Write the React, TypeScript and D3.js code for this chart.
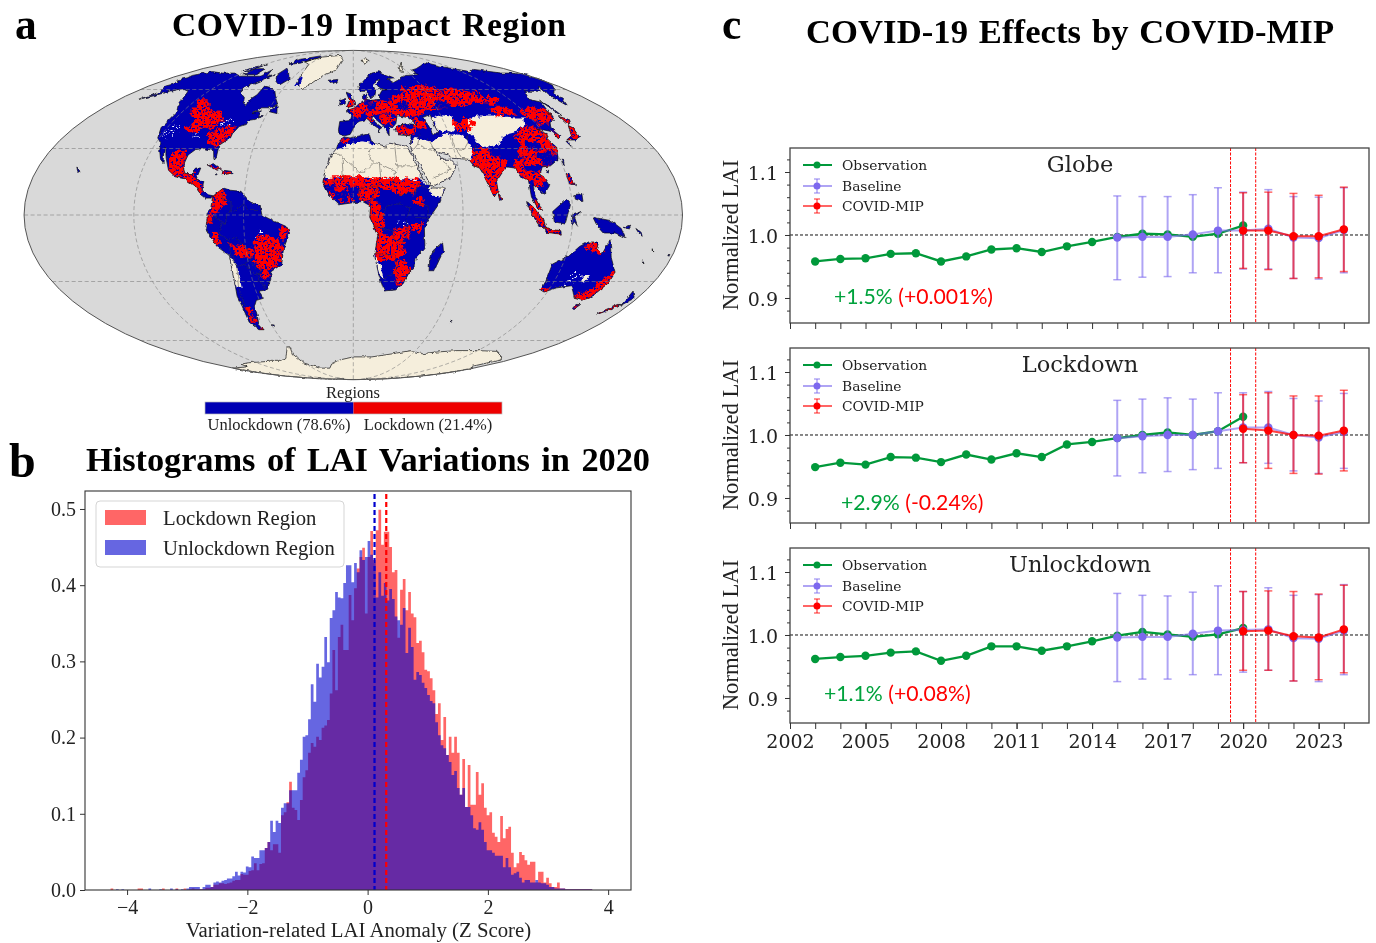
import React from "react";
import * as d3 from "d3";

// ---------- panel c values ----------
const obsYears = d3.range(2003, 2021);
const simYears = d3.range(2015, 2025);
const covidYears = d3.range(2020, 2025);
const yearTicks = [2002, 2005, 2008, 2011, 2014, 2017, 2020, 2023];

const globeObs = [0.958, 0.962, 0.963, 0.97, 0.971, 0.958, 0.966, 0.977, 0.979, 0.973, 0.982, 0.989, 0.997, 1.002, 1.001, 0.997, 1.002, 1.015];
const globeBase = [0.996, 0.997, 0.997, 1.001, 1.007, 1.007, 1.01, 0.996, 0.995, 1.008];
const globeBaseHi = [1.062, 1.061, 1.061, 1.064, 1.075, 1.068, 1.072, 1.061, 1.06, 1.075];
const globeBaseLo = [0.929, 0.933, 0.934, 0.94, 0.94, 0.946, 0.946, 0.931, 0.93, 0.94];
const globeCovid = [1.007, 1.007, 0.998, 0.998, 1.009];
const globeCovidHi = [1.067, 1.068, 1.066, 1.063, 1.076];
const globeCovidLo = [0.947, 0.945, 0.931, 0.932, 0.942];

const lockObs = [0.949, 0.956, 0.953, 0.965, 0.964, 0.957, 0.969, 0.961, 0.971, 0.965, 0.985, 0.989, 0.995, 1.0, 1.004, 1.0, 1.006, 1.029];
const lockBase = [0.995, 0.998, 1.0, 1.0, 1.006, 1.012, 1.012, 1.0, 0.996, 1.005];
const lockBaseHi = [1.055, 1.057, 1.059, 1.057, 1.067, 1.067, 1.069, 1.058, 1.054, 1.066];
const lockBaseLo = [0.935, 0.94, 0.942, 0.945, 0.947, 0.956, 0.955, 0.943, 0.939, 0.947];
const lockCovid = [1.01, 1.007, 1.0, 0.999, 1.007];
const lockCovidHi = [1.064, 1.067, 1.062, 1.062, 1.071];
const lockCovidLo = [0.956, 0.947, 0.939, 0.938, 0.943];

const unlockObs = [0.962, 0.965, 0.967, 0.972, 0.974, 0.959, 0.967, 0.982, 0.982, 0.975, 0.982, 0.99, 0.999, 1.005, 1.001, 0.997, 1.001, 1.011];
const unlockBase = [0.996, 0.997, 0.997, 1.002, 1.007, 1.008, 1.009, 0.995, 0.994, 1.007];
const unlockBaseHi = [1.066, 1.063, 1.062, 1.068, 1.078, 1.069, 1.075, 1.063, 1.064, 1.08];
const unlockBaseLo = [0.926, 0.93, 0.93, 0.937, 0.937, 0.941, 0.944, 0.927, 0.926, 0.937];
const unlockCovid = [1.006, 1.007, 0.998, 0.996, 1.009];
const unlockCovidHi = [1.069, 1.07, 1.069, 1.065, 1.079];
const unlockCovidLo = [0.944, 0.944, 0.927, 0.929, 0.94];

// ---------- panel b values, density x 1000, bins of 0.045 from -4.5 ----------
const histStart = -4.5;
const histBin = 0.045;
const lockdownTail = [0, 0, 0, 0, 0, 2, 0, 0, 0, 0, 0, 0, 0, 0, 0, 2, 2, 0, 0, 0, 0, 0, 0, 0, 2, 0, 0, 0, 0, 2, 0, 0, 2, 0];
const unlockdownTail = [0, 0, 0, 0, 0, 0, 0, 1, 0, 1, 0, 0, 0, 0, 0, 0, 0, 0, 0, 2, 0, 0, 0, 1, 0, 0, 0, 2, 0, 1, 0, 1, 0, 2];
const lockdownHist = [
  1, 2, 1, 1, 1, 1, 3, 3, 4, 7, 7, 9, 9, 8, 9, 10, 12, 13, 13, 21, 20, 20, 25, 26, 35, 26, 34, 35, 55, 63, 52, 60, 60, 49,
  98, 102, 115, 142, 108, 105, 92, 118, 148, 157, 180, 193, 188, 201, 197, 213, 216, 223, 258, 315, 262, 332, 348, 315, 315, 387,
  354, 396, 422, 437, 449, 363, 437, 471, 433, 472, 499, 453, 470, 470, 450, 417, 420, 331, 394, 408, 367, 391, 363, 358, 324, 327,
  312, 289, 287, 278, 262, 231, 245, 197, 227, 177, 201, 180, 201, 180, 125, 172, 109, 164, 112, 112, 155, 125, 140, 108, 98, 102,
  75, 70, 63, 97, 68, 80, 83, 49, 30, 35, 50, 46, 39, 33, 37, 37, 10, 24, 24, 10, 16, 9, 4, 4, 10, 2, 2, 1, 1, 1, 1, 1, 1, 1, 1, 1, 1,
];
const unlockdownHist = [
  4, 4, 4, 4, 1, 4, 7, 7, 4, 10, 11, 10, 12, 13, 15, 15, 18, 24, 19, 24, 23, 31, 30, 44, 42, 42, 52, 52, 55, 63, 91, 76, 91, 88,
  108, 114, 114, 131, 131, 131, 154, 171, 201, 203, 224, 270, 247, 297, 279, 293, 332, 299, 357, 367, 391, 384, 383, 403, 426, 426,
  404, 429, 417, 446, 433, 437, 458, 440, 429, 384, 417, 386, 403, 380, 395, 382, 359, 354, 348, 370, 311, 344, 319, 276, 286, 282,
  272, 265, 256, 248, 245, 220, 203, 190, 186, 177, 168, 151, 156, 134, 125, 134, 109, 109, 98, 81, 79, 89, 79, 63, 52, 52,
  49, 45, 45, 45, 30, 42, 30, 20, 22, 24, 16, 10, 13, 13, 10, 10, 13, 10, 9, 9, 7, 4, 4, 2, 2, 2, 2, 1, 1, 1, 1, 1, 1, 1, 1, 1, 1,
];
const histYTicks = [0, 0.1, 0.2, 0.3, 0.4, 0.5];
const histXTicks = [-4, -2, 0, 2, 4];
const unlockdownMean = 0.115;
const lockdownMean = 0.31;

// ---------- panel a geography, [lon, lat] ----------
type Ring = number[][];
const northAmerica: Ring = [[-168, 65.5], [-164, 67], [-166, 68.5], [-157, 71], [-141, 70], [-128, 70], [-115, 68], [-108, 68], [-95, 68], [-94, 72], [-88, 68], [-82, 69], [-86, 66], [-94, 61], [-93, 58.5], [-85, 55.5], [-82, 52.5], [-79, 51.5], [-79, 55], [-77, 57], [-78, 62], [-70, 61], [-65, 59], [-60, 55], [-56, 52], [-60, 50], [-66, 50], [-70, 47], [-65, 48.5], [-65, 46], [-61, 46], [-66, 44], [-70, 43.5], [-70, 41.5], [-74, 40.5], [-76, 37], [-76, 35], [-81, 31.5], [-80, 26], [-81, 25], [-83, 29], [-89, 30], [-94, 29.5], [-97, 27], [-97.5, 22], [-95, 18.5], [-91, 18.5], [-90, 21], [-87, 21], [-88, 16], [-83.5, 15], [-83.5, 11], [-80, 9], [-77, 8.5], [-78, 7.5], [-81, 7.5], [-85, 10], [-88, 13], [-94, 16], [-100, 17], [-105, 20], [-109, 25.5], [-113, 31], [-112, 28], [-109.5, 23], [-112, 25], [-115, 29], [-117, 32.5], [-121, 35], [-124, 40], [-124, 48], [-128, 51], [-132, 55], [-137, 59], [-146, 60.5], [-152, 59], [-158, 56.5], [-165, 54.5], [-158, 58.5], [-162, 60], [-165, 62], [-161, 64]];
const southAmerica: Ring = [[-77, 8.5], [-72, 12], [-68, 11], [-62, 10.5], [-57, 6], [-51, 4], [-50, 0], [-44, -2.5], [-37, -5], [-35, -8], [-39, -15], [-41, -22], [-48, -25.5], [-49, -29], [-53, -34], [-58, -34.5], [-57, -38], [-62, -39], [-65, -42], [-66, -46], [-69, -51], [-68, -54], [-72, -54], [-75, -50], [-73, -42], [-73, -37], [-71, -30], [-70, -18], [-76, -14], [-81, -6], [-80, -2], [-80, 1], [-78, 3], [-77.5, 7]];
const africa: Ring = [[-6, 35.5], [-2, 35], [10, 37], [11, 33.5], [15, 32], [20, 31], [22, 32.5], [32, 31], [34, 28], [37, 21], [39, 16], [43, 12], [51, 12], [47, 5], [41, -2], [39, -6], [40, -15], [35, -20], [35, -24], [32.5, -26], [30, -31], [26, -34], [19, -34.5], [15, -27], [12, -18], [13.5, -9], [9, -1], [9.5, 4], [5, 6], [-4, 5], [-8, 4.5], [-13, 8.5], [-17, 14.5], [-16, 20], [-13, 27], [-10, 30], [-9, 33]];
const eurasia: Ring = [[-9, 37], [-9.5, 39], [-9, 43], [-2, 43.5], [-1, 46], [-5, 48.5], [1, 50], [4, 52], [8, 54], [8, 57], [10.5, 57.5], [10, 54.5], [14, 54], [20, 54.5], [21, 57], [24, 59.5], [30, 60], [23, 60], [21, 63], [25, 65.5], [22, 65.5], [17.5, 62], [18.5, 60], [16, 56], [13, 55.5], [11, 59], [5.5, 59], [5, 62], [13, 67], [20, 70], [28, 71], [40, 67], [33, 66.5], [37, 64], [44, 66], [54, 68.5], [68, 69], [67, 72], [75, 73], [87, 75], [104, 77.5], [113, 74], [130, 71], [140, 72.5], [160, 70], [170, 70], [179.9, 69], [179.9, 65], [177, 62.5], [170, 60], [163, 58], [162, 55], [156.5, 51], [156, 57], [163, 62], [155, 59], [142, 59], [135, 54.5], [141, 53], [135, 44], [130, 42.5], [127.5, 40], [129.5, 36], [126.5, 34.5], [126, 38], [121, 39], [118, 39], [122, 37], [119.5, 35], [122, 30.5], [119, 25], [113, 22], [108, 21.5], [106, 19], [109, 13], [105, 9], [103, 11], [100, 13.5], [100, 9], [103.5, 2], [101, 3], [98, 8], [98, 16], [94.5, 16], [92, 21], [88, 21.5], [85, 19.5], [80, 15], [80, 10.5], [77.5, 8], [73, 19], [72, 21], [69, 22], [67, 25], [57, 25.5], [56, 27], [51, 28], [48, 30], [51, 25], [56, 25], [59, 22], [55, 17], [45, 13], [43, 13], [39, 21], [35, 28], [34.5, 31.5], [36, 36], [28, 36.5], [26.5, 39], [29, 41], [35, 42], [41.5, 41.5], [37, 45], [33, 45.5], [30, 46], [28, 42], [26, 40.5], [23, 40], [22.5, 36.5], [19.5, 41], [13, 45.5], [12.5, 44], [16, 41.7], [18.5, 40], [16.5, 39], [16, 38], [15.5, 40], [12, 42], [9, 44], [3.5, 43], [0, 39.5], [-2, 36.7], [-5.5, 36]];
const australia: Ring = [[114, -22], [122, -18], [126, -14], [130, -12], [136, -12], [136, -15], [140, -17.5], [142, -11], [146, -19], [153, -26], [153, -31], [150, -37.5], [146, -39], [140, -38], [136, -35], [132, -32], [124, -33], [118, -35], [115, -34], [115, -30]];
const vegetatedIslands: Ring[] = [
  [[-80, 73], [-72, 71], [-62, 66], [-66, 62.5], [-73, 65], [-80, 69]],
  [[-117, 73], [-105, 73], [-102, 69], [-115, 69]],
  [[-124, 74], [-116, 76], [-118, 72], [-124, 71]],
  [[-90, 80], [-70, 83], [-62, 82], [-75, 77], [-88, 76]],
  [[-59, 48], [-56, 51.5], [-53, 47]],
  [[-24, 65.5], [-15, 66], [-14, 64.5], [-20, 63.5]],
  [[-84, 22.5], [-80, 23], [-75, 20.5], [-78, 20]],
  [[-74, 20], [-69, 19.5], [-68.5, 18.5], [-74, 18]],
  [[-78, 18.5], [-76.5, 18.2], [-77.5, 17.8]],
  [[-6, 58.5], [-2, 57.5], [1, 52.5], [1, 51], [-5, 50], [-3, 54]],
  [[-10, 54], [-6, 55], [-6, 52], [-10, 51.5]],
  [[49.5, -12], [50.5, -16], [47, -25], [44, -25], [43.5, -21], [44.5, -16]],
  [[95, 5.5], [98, 4], [104, -2], [106, -6], [102, -5], [98, 0]],
  [[109, 1.5], [117, 7], [119, 5], [117.5, 1], [116, -4], [110, -3]],
  [[105, -6], [114, -7], [114.5, -8.5], [106, -7.7]],
  [[119.5, -5], [120, 0], [125, 1.5], [121, -1], [123, -5], [121, -3]],
  [[131, -1], [141, -2.5], [147, -6], [150, -10], [144, -8], [138, -8], [133, -4]],
  [[120, 18], [122, 18.5], [122, 16], [124, 13], [120.5, 14]],
  [[122, 9], [126, 9.5], [126, 6], [122, 7]],
  [[142, 54], [143, 50], [143, 46], [142, 47]],
  [[140, 45.5], [145, 44], [143, 42], [140, 42]],
  [[131, 34], [136, 36], [140, 41], [141.5, 40], [140.5, 35.5], [136, 34]],
  [[130, 33.5], [132, 33], [131, 31]],
  [[120.5, 25], [122, 25], [121, 22]],
  [[109, 20], [111, 20], [110, 18.2]],
  [[80, 9.5], [82, 7.5], [80.5, 6]],
  [[145, -41], [148, -41], [147, -43.5], [145.5, -43]],
  [[172.5, -34.5], [178, -38], [175, -41.5], [174, -39]],
  [[167, -46], [172, -43.5], [174, -41], [172, -41], [167, -45]],
  [[148, -5.5], [152, -4.5], [151, -6.2]],
  [[155, -6], [158, -7.5], [160, -9.5], [157, -8]],
  [[164.5, -20.5], [166.5, -22], [165.5, -21]],
  [[167, -15], [168, -16.5], [167.5, -16]],
  [[177.5, -17.5], [178.5, -18.3], [177.5, -18.2]],
  [[-156.5, 20.5], [-155, 19.5], [-156, 19], [-158, 21.5]],
  [[-60, -51.3], [-58, -51.5], [-59, -52.2]],
  [[69, -49], [70.5, -49.2], [69.5, -49.8]],
];
const greenland: Ring = [[-72, 78], [-60, 82], [-30, 83.5], [-18, 80], [-20, 72], [-32, 68], [-43, 60], [-52, 64], [-55, 70], [-60, 76]];
const greenlandCoast: Ring = [[-52, 62], [-48, 62], [-50, 67], [-53, 68]];
const svalbard: Ring = [[12, 79], [20, 80.5], [25, 79], [17, 77]];
const novayaZemlya: Ring = [[52, 71], [57, 74], [68, 77], [60, 74], [55, 70.5]];
const antarctica: Ring = [[-180, -78], [-150, -77], [-145, -75], [-130, -74], [-100, -73], [-85, -73], [-75, -71], [-68, -68], [-60, -63.5], [-58, -64], [-62, -68], [-62, -74], [-50, -78], [-35, -78], [-28, -75], [-15, -72], [0, -70], [20, -70], [40, -68], [55, -66], [70, -68], [80, -67], [100, -66], [120, -66], [140, -66.5], [160, -70], [170, -72], [165, -77], [180, -78], [180, -82], [180, -85], [180, -88], [180, -89.9], [-180, -89.9], [-180, -88], [-180, -85], [-180, -82]];
const caspianSea: Ring = [[47, 45], [53, 46.5], [53, 40], [54, 37], [50, 37], [49, 41]];

const desertAreas: Ring[] = [
  [[-18, 16], [-5, 17], [5, 16.5], [15, 16.5], [25, 16], [35, 15.5], [38, 17], [38, 25], [36, 33], [20, 33], [12, 32], [10, 32.5], [5, 33], [-3, 32], [-10, 29.5], [-18, 28]],
  [[41, 11], [51, 12.5], [49.5, 8], [44, 8.5]],
  [[34, 28], [34, 32], [38, 35], [44, 34], [48, 33], [52, 35], [58, 37], [62, 36], [66, 37], [70, 34], [71, 28], [68, 24], [60, 24], [60, 18], [45, 11], [40, 14], [36, 22]],
  [[52, 44], [58, 46], [66, 45], [68, 41], [62, 38], [54, 39]],
  [[72, 38], [76, 44], [85, 46], [95, 46], [110, 45], [116, 45], [112, 41], [104, 38], [98, 37], [92, 35], [88, 32], [80, 30], [76, 33], [74, 36]],
  [[-76, -14], [-70, -18], [-67, -23], [-68, -33], [-71, -33], [-71, -25], [-72, -17]],
  [[12, -17], [15, -20], [18, -29], [16, -28]],
  [[136, -27], [139, -27], [138, -30], [136, -30]],
];
const sparseAreas: Ring[] = [
  [[-119, 36], [-115, 42], [-112, 40], [-112, 35]],
  [[-90, 44], [-83, 44], [-80, 42], [-86, 41]],
  [[-100, 38], [-96, 38], [-95, 36], [-99, 36]],
  [[-54, -8], [-50, -8], [-50, -10], [-54, -10]],
  [[25, -3], [29, -3], [29, -5], [26, -5]],
  [[128, -26], [134, -26], [134, -30], [128, -30]],
];
const lockdownAreas: Ring[] = [
  [[-113, 48], [-117, 54], [-111, 54], [-105, 50], [-95, 48], [-88, 44], [-91, 41.5], [-98, 39], [-105, 38], [-106, 44]],
  [[-92, 37], [-85, 39], [-78, 41], [-76, 38], [-78, 35], [-83, 32], [-88, 33]],
  [[-106, 28], [-100, 29], [-98, 25], [-100, 22], [-105, 22]],
  [[-105, 22], [-98, 22], [-96, 18], [-100, 17], [-105, 19]],
  [[-97, 18], [-90, 18], [-88, 15], [-85, 13], [-83, 10], [-85, 10], [-90, 13], [-95, 15]],
  [[-84, 23], [-75, 20.5], [-75, 19.8], [-84, 22]],
  [[-74, 20], [-69, 19], [-69, 18], [-74, 18]],
  [[-76, 11], [-71, 11], [-70, 7], [-72, 3], [-76, 1], [-78, 3]],
  [[-80, 0], [-78, 1], [-77, -3], [-80, -3]],
  [[-78, -8], [-75, -8], [-74, -12], [-76, -13]],
  [[-53, -10], [-47, -9], [-42, -12], [-40, -15], [-41, -20], [-45, -23], [-50, -24], [-54, -24], [-56, -20], [-55, -15]],
  [[-68, -13], [-62, -14], [-57, -16], [-58, -19], [-63, -19], [-66, -17]],
  [[-40, -6], [-36, -6], [-38, -11], [-41, -10]],
  [[-54, -24], [-49, -25], [-50, -28], [-53, -28]],
  [[-72, -43], [-70, -43], [-70, -50], [-73, -51]],
  [[-69, -52], [-66, -54], [-70, -55]],
  [[-17, 15], [-5, 16], [-5, 12], [-2, 12], [0, 6.5], [-5, 6], [-10, 7], [-15, 11]],
  [[-12, 16.8], [5, 16.8], [15, 16.2], [25, 16], [36, 15.5], [38, 13], [30, 12.5], [20, 12], [10, 12.5], [0, 13]],
  [[3, 12.5], [12, 13], [14, 10], [10, 7], [4, 7]],
  [[22, 13], [34, 13], [32, 10], [25, 9]],
  [[9, 6], [14, 6], [16, -2], [15, -10], [12, -8], [9, -1]],
  [[13, -9], [22, -9], [28, -12], [29, -17], [24, -20], [14, -20], [12, -15]],
  [[23, -6], [31, -6], [30, -10], [24, -10]],
  [[33, -4], [37, -4], [37, -7], [33, -7]],
  [[24, -20], [30, -21], [33, -24], [31, -29], [27, -31], [25, -26]],
  [[34, 8], [38, 8], [38, 5], [34, 5]],
  [[-8, 34], [-3, 35], [-5, 32]],
  [[-1, 49], [4, 51], [10, 53], [18, 54], [24, 53], [27, 50], [22, 47], [15, 47], [8, 48], [3, 46], [0, 46]],
  [[18, 46], [25, 46], [28, 44], [24, 42], [20, 43]],
  [[-3, 55], [0, 53], [1, 51.5], [-4, 51]],
  [[10, 45], [13, 45], [13, 43], [10, 44]],
  [[25, 52], [35, 56], [45, 58], [55, 57], [62, 55], [75, 57], [85, 55], [83, 51], [72, 51], [60, 50], [50, 49], [45, 46], [38, 46], [30, 47], [24, 49]],
  [[75, 60], [85, 60], [100, 57], [110, 54], [105, 52], [90, 53], [80, 55]],
  [[40, 60], [60, 62], [70, 60], [72, 55], [60, 52], [45, 52]],
  [[40, 44], [48, 43], [46, 40], [40, 40]],
  [[28, 40], [38, 40], [38, 37], [28, 37]],
  [[66, 42], [75, 44], [80, 42], [75, 39], [68, 39]],
  [[100, 36], [112, 40], [118, 40], [122, 37], [120, 32], [122, 30], [118, 25], [110, 22], [100, 23], [97, 28], [103, 32]],
  [[118, 48], [128, 50], [133, 46], [128, 42], [122, 42]],
  [[130, 50], [137, 48], [135, 44], [131, 44]],
  [[98, 50], [110, 50], [112, 47], [100, 46]],
  [[68, 24], [72, 28], [76, 31], [80, 29], [85, 26], [88, 24], [87, 22], [85, 20], [80, 15], [80, 11], [77, 8], [74, 15], [72, 20]],
  [[80, 9.5], [82, 7.5], [80, 6]],
  [[93, 24], [97, 24], [98, 17], [95, 16], [93, 20]],
  [[99, 19], [105, 19], [107, 15], [102, 12], [100, 14]],
  [[96, 5], [101, 3], [105, -3], [106, -6], [102, -4], [98, 1]],
  [[105, -6], [114, -7], [114, -8.5], [106, -7.5]],
  [[100, 7], [103, 5], [104, 2], [101, 3]],
  [[120, 18], [122, 18], [123, 14], [120, 14]],
  [[126, 38], [129, 38], [129, 35], [126, 35]],
  [[131, 34], [136, 36], [140, 41], [141.5, 40], [140.5, 35.5], [136, 34]],
  [[140, 45.5], [145, 44], [143, 42], [140, 42]],
  [[140, -38.5], [147, -39], [150, -37], [153, -30], [153, -26], [150, -27], [149, -32], [145, -35], [141, -36]],
  [[115, -34], [118, -35], [120, -33]],
  [[130, -13], [136, -12], [140, -17], [136, -16], [130, -15]],
  [[167, -46], [172, -43], [174, -41], [172, -41], [167, -45]],
  [[145, -41], [147, -41], [147, -43]],
];
const unlockedInRed: Ring[] = [
  [[108, 27], [118, 28], [118, 24], [110, 23]],
  [[80, 28], [90, 28], [92, 24], [86, 25]],
  [[105, 33], [112, 34], [112, 30], [105, 30]],
  [[60, 52.5], [70, 53], [70, 50.5], [60, 50.5]],
  [[32, 52], [40, 53], [40, 50], [33, 50]],
  [[-10, 11], [-4, 11], [-4, 7], [-10, 7]],
  [[-15, 13], [-10, 13], [-10, 10], [-14, 11]],
  [[-2, 12], [3, 12], [3, 8], [-2, 8]],
  [[10, 53], [17, 53], [17, 49], [11, 49]],
];
const countryBorders: Ring[] = [
  [[-12, 15], [-5.5, 15.5], [-6.5, 25], [-4.8, 25]],
  [[-13, 27.7], [-8.7, 27.7], [-4.8, 25], [1, 21], [3.2, 19], [6, 19.1], [12, 23.5]],
  [[9.5, 30], [10, 25], [12, 23.5], [15, 23], [24, 19.5], [22, 13]],
  [[25, 31.5], [25, 20]],
  [[25, 22], [37, 22]],
  [[15, 23], [15.5, 16], [13.5, 13.5]],
  [[36, 29.5], [39, 32], [47, 29], [48, 28.5]],
  [[45, 16.5], [52, 19], [55, 20], [55, 22], [52, 24]],
  [[39, 32], [42, 37]],
  [[46, 35], [48, 30]],
  [[61, 36.5], [61, 30], [63, 26]],
  [[61, 30], [66, 29.5], [70, 33], [71, 36], [74, 37]],
  [[71, 25], [74, 32]],
  [[-70, -11], [-74, -8], [-72, -4], [-70, -4], [-69, 1], [-64, 2], [-60, 5], [-57, 2], [-52, 2]],
  [[-70, -11], [-65, -10], [-60, -14], [-58, -18], [-58, -22], [-54, -25], [-57, -30], [-53, -33]],
  [[-70, -18], [-67, -23], [-70, -33], [-71, -42], [-72, -50]],
  [[-72, 11], [-72, 7], [-67, 6], [-67, 1]],
  [[-80, -3.5], [-75, -1], [-70, -4]],
  [[-69, -11], [-69, -17], [-67, -23], [-62, -22], [-58, -20]],
  [[-62, -22], [-58, -27], [-54, -26]],
  [[12, -5], [22, -7], [22, -11], [28, -12], [30, -8], [29, -2], [31, 3], [25, 5], [18, 4], [16, -1]],
  [[24, 9], [34, 10]],
  [[34, 9], [36, 14], [43, 11]],
  [[34, -1], [41, -1.5], [41, 4], [35, 5]],
  [[12, -17], [24, -18], [25, -25], [20, -28], [17, -29]],
  [[3, 6], [3.5, 12], [14, 13], [9, 5]],
];
const gridLats = [-60, -30, 0, 30, 60];
const gridLons = [-120, -60, 0, 60, 120];

const SERIF = "'Liberation Serif', serif";
const DEJAVU = "'DejaVu Serif', serif";
const GREEN = "#06993a";
const SLATE = "#7b68ee";
const MAP_BLUE = "#0000b4";
const BEIGE = "#f5eedc";

// Mollweide is not in d3-geo, so give it the raw function
function mollweideRaw(lambda: number, phi: number) {
  let t = phi;
  if (Math.abs(phi) < Math.PI / 2 - 1e-6) {
    const target = Math.PI * Math.sin(phi);
    for (let i = 0; i < 30; i++) {
      const denom = 2 + 2 * Math.cos(2 * t);
      if (denom < 1e-9) break;
      t -= (2 * t + Math.sin(2 * t) - target) / denom;
    }
  }
  return [(2 * Math.SQRT2 / Math.PI) * lambda * Math.cos(t), Math.SQRT2 * Math.sin(t)];
}

function drawMap(root: any, defs: any) {
  const projection = d3.geoProjection(mollweideRaw as any).scale(116.4).translate([353.3, 215]).precision(0.3);
  const path = d3.geoPath(projection);
  const ringPath = (ring: Ring) => d3.line()(ring.map((p) => projection(p as [number, number]) as [number, number])) + "Z";
  const fillRings = (parent: any, rings: Ring[], fill: string) =>
    parent.append("g").selectAll("path").data(rings).join("path").attr("d", ringPath).attr("fill", fill);

  const vegetated = [northAmerica, southAmerica, africa, eurasia, australia, ...vegetatedIslands];
  const frozen = [greenland, svalbard, novayaZemlya, antarctica];
  const allLand = [...vegetated, ...frozen];

  const landClip = defs.append("clipPath").attr("id", "land-clip");
  landClip.selectAll("path").data(allLand).join("path").attr("d", ringPath);

  const sphere = root.append("g");
  sphere.append("path").attr("d", path({ type: "Sphere" } as any)).attr("fill", "#d9d9d9");

  // everything on land shares one wobble so that coasts stop looking like polygons
  const land = sphere.append("g").attr("filter", "url(#coast)");
  fillRings(land, frozen, BEIGE);
  fillRings(land, vegetated, MAP_BLUE);
  fillRings(land, [greenlandCoast], MAP_BLUE);

  const inside = land.append("g").attr("clip-path", "url(#land-clip)");
  const deserts = inside.append("g").attr("filter", "url(#jag-soft)");
  fillRings(deserts, desertAreas, BEIGE);
  const sparse = inside.append("g").attr("filter", "url(#speck)");
  fillRings(sparse, sparseAreas, "#f2f4fa");
  const red = inside.append("g").attr("filter", "url(#mottle)");
  fillRings(red, lockdownAreas, "#f00");
  const holes = inside.append("g").attr("filter", "url(#mottle)");
  fillRings(holes, unlockedInRed, MAP_BLUE);

  fillRings(land, [caspianSea], "#d9d9d9");
  land.append("g").selectAll("path").data([...allLand, caspianSea]).join("path").attr("d", ringPath)
    .attr("fill", "none").attr("stroke", "#111").attr("stroke-width", 0.7);
  land.append("path")
    .attr("d", path({ type: "MultiLineString", coordinates: countryBorders } as any))
    .attr("fill", "none").attr("stroke", "#333").attr("stroke-width", 0.45);

  const graticule = {
    type: "MultiLineString",
    coordinates: [
      ...gridLats.map((lat) => d3.range(-180, 180.5, 5).map((lon) => [lon === 180 ? 179.99 : lon === -180 ? -179.99 : lon, lat])),
      ...gridLons.map((lon) => d3.range(-89, 89.5, 2).map((lat) => [lon, lat])),
    ],
  };
  sphere.append("path").attr("d", path(graticule as any)).attr("fill", "none")
    .attr("stroke", "#808080").attr("stroke-width", 0.8).attr("stroke-dasharray", "4 2.5").attr("opacity", 0.75);
  sphere.append("path").attr("d", path({ type: "Sphere" } as any)).attr("fill", "none").attr("stroke", "#555").attr("stroke-width", 1);

  // colour bar
  const bar = d3.scaleLinear().domain([0, 2]).range([205, 502]);
  const bands = [[0, MAP_BLUE], [1, "#ee0000"]] as [number, string][];
  root.selectAll(".cb").data(bands).join("rect").attr("class", "cb")
    .attr("x", (d: any) => bar(d[0])).attr("y", 402).attr("height", 12)
    .attr("width", bar(1) - bar(0)).attr("fill", (d: any) => d[1]);
  root.append("rect").attr("x", 205).attr("y", 402).attr("width", 297).attr("height", 12)
    .attr("fill", "none").attr("stroke", "#bbb").attr("stroke-width", 0.7);
  const cbText = [["Regions", 353, 398, 16.5], ["Unlockdown (78.6%)", 279, 430, 16.5], ["Lockdown (21.4%)", 428, 430, 16.5]] as any[];
  root.selectAll(".cbt").data(cbText).join("text").attr("class", "cbt")
    .attr("x", (d: any) => d[1]).attr("y", (d: any) => d[2]).attr("font-size", (d: any) => d[3])
    .attr("text-anchor", "middle").attr("font-family", SERIF).attr("fill", "#222").text((d: any) => d[0]);
}

function drawHistogram(root: any) {
  const g = root.append("g");
  const x = d3.scaleLinear().domain([-4.7, 4.38]).range([85, 631]);
  const y = d3.scaleLinear().domain([0, 0.5236]).range([890, 491]);

  const series: [number[], string][] = [
    [[...lockdownTail, ...lockdownHist], "rgba(255,0,0,0.6)"],
    [[...unlockdownTail, ...unlockdownHist], "rgba(0,0,205,0.6)"],
  ];
  series.forEach(([values, fill]) => {
    const area = d3.area<number>()
      .x((_, i) => x(histStart + i * histBin))
      .y0(y(0))
      .y1((d) => y(d / 1000))
      .curve(d3.curveStepAfter);
    g.append("path").attr("d", area([...values, 0])).attr("fill", fill);
  });

  [[unlockdownMean, "#0000cd"], [lockdownMean, "#f00"]].forEach(([m, c]: any) => {
    g.append("line").attr("x1", x(m)).attr("x2", x(m)).attr("y1", 494).attr("y2", y(0))
      .attr("stroke", c).attr("stroke-width", 2.2).attr("stroke-dasharray", "5 3");
  });

  g.append("rect").attr("x", 85).attr("y", 491).attr("width", 546).attr("height", 399)
    .attr("fill", "none").attr("stroke", "#333").attr("stroke-width", 1.1);

  const xAxis = g.append("g").attr("transform", "translate(0,890)")
    .call(d3.axisBottom(x).tickValues(histXTicks).tickSize(5).tickPadding(5).tickFormat((d: any) => String(d).replace("-", "\u2212")));
  const yAxis = g.append("g").attr("transform", "translate(85,0)")
    .call(d3.axisLeft(y).tickValues(histYTicks).tickSize(5).tickPadding(4).tickFormat(d3.format(".1f") as any));
  [xAxis, yAxis].forEach((a: any) => {
    a.select(".domain").remove();
    a.selectAll("text").attr("font-family", SERIF).attr("font-size", 20).attr("fill", "#222");
    a.selectAll("line").attr("stroke", "#333");
  });

  g.append("text").attr("x", 358.5).attr("y", 937).attr("text-anchor", "middle")
    .attr("font-family", SERIF).attr("font-size", 20.8).attr("fill", "#222")
    .text("Variation-related LAI Anomaly (Z Score)");

  // legend
  g.append("rect").attr("x", 96).attr("y", 501).attr("width", 248).attr("height", 66).attr("rx", 4)
    .attr("fill", "rgba(255,255,255,0.85)").attr("stroke", "#d5d5d5");
  const rows: [string, string, number][] = [
    ["Lockdown Region", "rgba(255,0,0,0.6)", 510],
    ["Unlockdown Region", "rgba(0,0,205,0.6)", 540],
  ];
  rows.forEach(([label, fill, top]) => {
    g.append("rect").attr("x", 105).attr("y", top).attr("width", 41).attr("height", 15).attr("fill", fill);
    g.append("text").attr("x", 163).attr("y", top + 14.5).attr("font-family", SERIF).attr("font-size", 20.7)
      .attr("fill", "#222").text(label);
  });
}

type PanelData = {
  title: string; top: number; obs: number[]; base: number[]; baseHi: number[]; baseLo: number[];
  covid: number[]; covidHi: number[]; covidLo: number[]; gain: string; sim: string; noteX: number; noteY: number; showYears: boolean;
};

function drawErrors(g: any, x: any, y: any, years: number[], mid: number[], hi: number[], lo: number[], color: string, lineOpacity: number) {
  const line = d3.line<number>().x((_, i) => x(years[i])).y((d) => y(d));
  years.forEach((yr, i) => {
    g.append("line").attr("x1", x(yr)).attr("x2", x(yr)).attr("y1", y(lo[i])).attr("y2", y(hi[i]))
      .attr("stroke", color).attr("stroke-width", 2).attr("opacity", 0.6);
    [lo[i], hi[i]].forEach((v) => {
      g.append("line").attr("x1", x(yr) - 4).attr("x2", x(yr) + 4).attr("y1", y(v)).attr("y2", y(v))
        .attr("stroke", color).attr("stroke-width", 1.5).attr("opacity", 0.6);
    });
  });
  g.append("path").attr("d", line(mid)).attr("fill", "none").attr("stroke", color).attr("stroke-width", 2).attr("opacity", lineOpacity);
  g.selectAll(null).data(mid).join("circle").attr("cx", (_: any, i: number) => x(years[i])).attr("cy", (d: number) => y(d))
    .attr("r", 4.2).attr("fill", color);
}

function drawPanel(root: any, p: PanelData) {
  const g = root.append("g");
  const x = d3.scaleLinear().domain([2002, 2025]).range([790, 1369]);
  const y = d3.scaleLinear().domain([0.8603, 1.1381]).range([p.top + 175, p.top]);

  g.append("line").attr("x1", 790).attr("x2", 1369).attr("y1", y(1)).attr("y2", y(1))
    .attr("stroke", "#111").attr("stroke-width", 1).attr("stroke-dasharray", "3 2");
  [2019.5, 2020.5].forEach((v) => {
    g.append("line").attr("x1", x(v)).attr("x2", x(v)).attr("y1", p.top).attr("y2", p.top + 175)
      .attr("stroke", "#f00").attr("stroke-width", 1).attr("stroke-dasharray", "3 1.5");
  });

  const obsLine = d3.line<number>().x((_, i) => x(obsYears[i])).y((d) => y(d));
  g.append("path").attr("d", obsLine(p.obs)).attr("fill", "none").attr("stroke", GREEN).attr("stroke-width", 2.3);
  g.selectAll(null).data(p.obs).join("circle").attr("cx", (_: any, i: number) => x(obsYears[i])).attr("cy", (d: number) => y(d))
    .attr("r", 4.2).attr("fill", GREEN);
  drawErrors(g, x, y, simYears, p.base, p.baseHi, p.baseLo, SLATE, 0.6);
  drawErrors(g, x, y, covidYears, p.covid, p.covidHi, p.covidLo, "#f00", 0.75);

  g.append("rect").attr("x", 790).attr("y", p.top).attr("width", 579).attr("height", 175)
    .attr("fill", "none").attr("stroke", "#444").attr("stroke-width", 1.3);

  const minor = g.append("g").attr("transform", "translate(790,0)")
    .call(d3.axisLeft(y).tickValues(d3.range(0.88, 1.13, 0.02)).tickSize(3).tickFormat(() => ""));
  const major = g.append("g").attr("transform", "translate(790,0)")
    .call(d3.axisLeft(y).tickValues([0.9, 1.0, 1.1]).tickSize(5).tickPadding(7).tickFormat(d3.format(".1f") as any));
  const bottom = g.append("g").attr("transform", `translate(0,${p.top + 175})`)
    .call(d3.axisBottom(x).tickValues(d3.range(2002, 2025)).tickSize(6).tickFormat(() => ""));
  [minor, major, bottom].forEach((a: any) => {
    a.select(".domain").remove();
    a.selectAll("line").attr("stroke", "#333");
  });
  major.selectAll("text").attr("font-family", DEJAVU).attr("font-size", 19).attr("dy", "0.38em").attr("fill", "#222");
  if (p.showYears) {
    const labels = g.append("g").attr("transform", `translate(0,${p.top + 175})`)
      .call(d3.axisBottom(x).tickValues(yearTicks).tickSize(6).tickPadding(6).tickFormat(d3.format("d") as any));
    labels.select(".domain").remove();
    labels.selectAll("line").attr("stroke", "#333");
    labels.selectAll("text").attr("font-family", DEJAVU).attr("font-size", 19).attr("fill", "#222");
  }

  g.append("text").attr("transform", `translate(738,${p.top + 87}) rotate(-90)`).attr("text-anchor", "middle")
    .attr("font-family", SERIF).attr("font-size", 22.7).attr("fill", "#222").text("Normalized LAI");
  g.append("text").attr("x", 1080).attr("y", p.top + 24).attr("text-anchor", "middle")
    .attr("font-family", DEJAVU).attr("font-size", 22.5).attr("fill", "#222").text(p.title);

  // legend
  const rows: [string, string, number, boolean][] = [
    ["Observation", GREEN, 17, false],
    ["Baseline", SLATE, 38, true],
    ["COVID-MIP", "#f00", 58, true],
  ];
  rows.forEach(([label, color, dy, err]) => {
    const cy = p.top + dy;
    g.append("line").attr("x1", 803).attr("x2", 832).attr("y1", cy).attr("y2", cy).attr("stroke", color)
      .attr("stroke-width", 2).attr("opacity", err ? 0.6 : 1);
    if (err) {
      g.append("line").attr("x1", 817).attr("x2", 817).attr("y1", cy - 7).attr("y2", cy + 7).attr("stroke", color)
        .attr("stroke-width", 1.5).attr("opacity", 0.6);
      [-7, 7].forEach((d) => g.append("line").attr("x1", 814).attr("x2", 820).attr("y1", cy + d).attr("y2", cy + d)
        .attr("stroke", color).attr("stroke-width", 1.2).attr("opacity", 0.7));
    }
    g.append("circle").attr("cx", 817).attr("cy", cy).attr("r", 3.5).attr("fill", color);
    g.append("text").attr("x", 842).attr("y", cy + 5).attr("font-family", DEJAVU).attr("font-size", 13.8)
      .attr("fill", "#222").text(label);
  });

  const note = g.append("text").attr("x", p.noteX).attr("y", p.noteY).attr("font-family", "Lato, 'Open Sans', sans-serif").attr("font-size", 21.2);
  note.append("tspan").attr("fill", "#00a23c").text(p.gain + " ");
  note.append("tspan").attr("fill", "#f00").text(p.sim);
}

export default function App() {
  const ref = React.useRef<SVGSVGElement>(null);

  React.useEffect(() => {
    const svg = d3.select(ref.current);
    svg.selectAll("*").remove();
    const defs = svg.append("defs");

    const soft = defs.append("filter").attr("id", "soft").attr("filterUnits", "userSpaceOnUse")
      .attr("x", 0).attr("y", 0).attr("width", 1376).attr("height", 943);
    soft.append("feGaussianBlur").attr("stdDeviation", 0.35);

    const coast = defs.append("filter").attr("id", "coast").attr("filterUnits", "userSpaceOnUse")
      .attr("x", 0).attr("y", 40).attr("width", 700).attr("height", 350).attr("color-interpolation-filters", "sRGB");
    coast.append("feTurbulence").attr("type", "fractalNoise").attr("baseFrequency", 0.22).attr("numOctaves", 2).attr("seed", 7).attr("result", "n");
    coast.append("feDisplacementMap").attr("in", "SourceGraphic").attr("in2", "n").attr("scale", 3.5).attr("xChannelSelector", "R").attr("yChannelSelector", "G");

    const jag = defs.append("filter").attr("id", "jag-soft").attr("filterUnits", "userSpaceOnUse")
      .attr("x", 0).attr("y", 40).attr("width", 700).attr("height", 350).attr("color-interpolation-filters", "sRGB");
    jag.append("feTurbulence").attr("type", "fractalNoise").attr("baseFrequency", 0.15).attr("numOctaves", 2).attr("seed", 3).attr("result", "n");
    jag.append("feDisplacementMap").attr("in", "SourceGraphic").attr("in2", "n").attr("scale", 6).attr("xChannelSelector", "R").attr("yChannelSelector", "G");

    // same chain, with a threshold on the mask that decides how much survives
    const noisyFill = (id: string, alphaOffset: number) => {
      const f = defs.append("filter").attr("id", id).attr("filterUnits", "userSpaceOnUse")
        .attr("x", 0).attr("y", 40).attr("width", 700).attr("height", 350).attr("color-interpolation-filters", "sRGB");
      f.append("feMorphology").attr("in", "SourceGraphic").attr("operator", "dilate").attr("radius", 1).attr("result", "fat");
      f.append("feTurbulence").attr("type", "fractalNoise").attr("baseFrequency", 0.16).attr("numOctaves", 2).attr("seed", 4).attr("result", "n");
      f.append("feDisplacementMap").attr("in", "fat").attr("in2", "n").attr("scale", 9).attr("xChannelSelector", "R").attr("yChannelSelector", "G").attr("result", "d");
      f.append("feTurbulence").attr("type", "fractalNoise").attr("baseFrequency", 0.5).attr("numOctaves", 1).attr("seed", 11);
      f.append("feColorMatrix").attr("values", `0 0 0 0 0  0 0 0 0 0  0 0 0 0 0  9 0 0 0 ${alphaOffset}`).attr("result", "m");
      f.append("feComposite").attr("in", "d").attr("in2", "m").attr("operator", "in");
    };
    noisyFill("mottle", -3.0);
    noisyFill("speck", -5.0);

    const root = svg.append("g").attr("filter", "url(#soft)");
    root.append("rect").attr("width", 1376).attr("height", 943).attr("fill", "#fff");

    drawMap(root, defs);
    drawHistogram(root);

    const panels: PanelData[] = [
      { title: "Globe", top: 148, obs: globeObs, base: globeBase, baseHi: globeBaseHi, baseLo: globeBaseLo, covid: globeCovid, covidHi: globeCovidHi, covidLo: globeCovidLo, gain: "+1.5%", sim: "(+0.001%)", noteX: 834, noteY: 304, showYears: false },
      { title: "Lockdown", top: 348, obs: lockObs, base: lockBase, baseHi: lockBaseHi, baseLo: lockBaseLo, covid: lockCovid, covidHi: lockCovidHi, covidLo: lockCovidLo, gain: "+2.9%", sim: "(-0.24%)", noteX: 841, noteY: 510, showYears: false },
      { title: "Unlockdown", top: 548, obs: unlockObs, base: unlockBase, baseHi: unlockBaseHi, baseLo: unlockBaseLo, covid: unlockCovid, covidHi: unlockCovidHi, covidLo: unlockCovidLo, gain: "+1.1%", sim: "(+0.08%)", noteX: 824, noteY: 701, showYears: true },
    ];
    panels.forEach((p) => drawPanel(root, p));

    const headings = [
      ["a", 15, 39, 43.5, undefined, 0],
      ["b", 9, 477, 48, undefined, 0],
      ["c", 722, 39, 43.5, undefined, 0],
      ["COVID-19 Impact Region", 172, 36, 33.6, 394, 2],
      ["Histograms of LAI Variations in 2020", 86, 471, 34.4, 564, 3],
      ["COVID-19 Effects by COVID-MIP", 806, 43, 34.6, 528, 2],
    ] as [string, number, number, number, number | undefined, number][];
    headings.forEach(([label, x, y, size, len, gap]) => {
      const t = root.append("text").attr("x", x).attr("y", y).attr("font-family", SERIF).attr("font-weight", "bold")
        .attr("font-size", size).attr("word-spacing", gap).attr("fill", "#000").text(label);
      if (len) t.attr("textLength", len).attr("lengthAdjust", "spacing");
    });
  }, []);

  return <svg ref={ref} width={1376} height={943} style={{ position: "absolute", left: 0, top: 0, display: "block" }} />;
}
